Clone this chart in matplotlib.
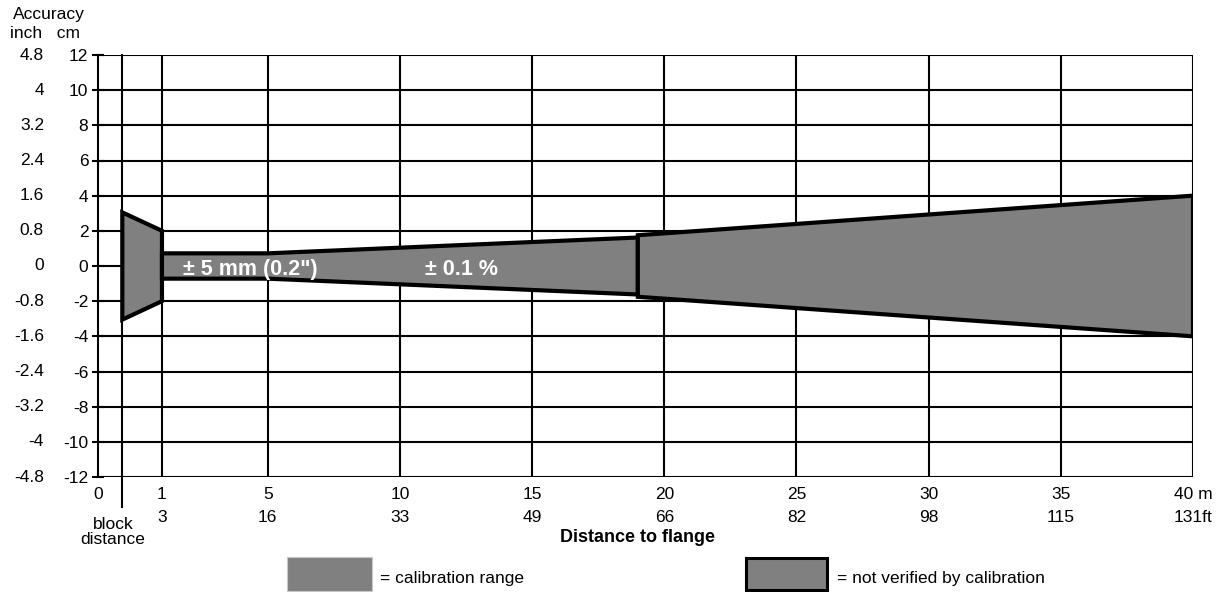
"""
Accuracy chart: measuring accuracy vs distance to flange.
Writes out.png
"""
import numpy as np
import matplotlib
matplotlib.use("Agg")
import matplotlib.pyplot as plt
from matplotlib.patches import Rectangle
from matplotlib.transforms import blended_transform_factory

plt.rcParams["font.family"] = ["Liberation Sans", "DejaVu Sans"]
plt.rcParams["font.size"] = 12.5

# x axis: distance in m (the 0..1 m part is stretched in the original)
X_TICKS_M = [0, 1, 5, 10, 15, 20, 25, 30, 35, 40]
X_LABELS_M = ["0", "1", "5", "10", "15", "20", "25", "30", "35", "40 m"]
X_LABELS_FT = ["", "3", "16", "33", "49", "66", "82", "98", "115", "131ft"]
BLOCK_DISTANCE = 0.38

# y axis: accuracy in cm, with inch equivalents
Y_TICKS_CM = [12, 10, 8, 6, 4, 2, 0, -2, -4, -6, -8, -10, -12]
Y_LABELS_INCH = ["4.8", "4", "3.2", "2.4", "1.6", "0.8", "0", "-0.8", "-1.6",
                 "-2.4", "-3.2", "-4", "-4.8"]

# accuracy envelope (half width in cm)
block_x = [BLOCK_DISTANCE, 1.0]
block_half = [3.05, 2.0]
cal_x = [1.0, 5.0, 19.0]
cal_half = [0.72, 0.72, 1.62]
unver_x = [19.0, 40.0]
unver_half = [1.75, 4.0]

GRAY = "#808080"

KNOTS_M = [0, 1, 40]
KNOTS_U = [0, 2.42, 41.42]


def fwd(x):
    return np.interp(x, KNOTS_M, KNOTS_U)


def inv(u):
    return np.interp(u, KNOTS_U, KNOTS_M)


def envelope(ax, xs, half):
    xs = list(xs)
    half = list(half)
    px = xs + xs[::-1]
    py = half + [-h for h in half[::-1]]
    ax.fill(px, py, facecolor=GRAY, edgecolor="black", linewidth=3,
            joinstyle="miter", zorder=3)


fig = plt.figure(figsize=(12.32, 5.92), dpi=100)
ax = fig.add_axes([98 / 1232, 1 - 477 / 592, (1193 - 98) / 1232, (477 - 55) / 592])
ax.set_xscale("function", functions=(fwd, inv))
ax.set_xlim(0, 40)
ax.set_ylim(-12, 12)

# grid
for y in Y_TICKS_CM:
    ax.axhline(y, color="black", linewidth=1.5, zorder=1)
for x in X_TICKS_M[1:]:
    ax.axvline(x, color="black", linewidth=1.5, zorder=1)
trans = blended_transform_factory(ax.transData, ax.transAxes)
ax.plot([BLOCK_DISTANCE, BLOCK_DISTANCE], [1, -0.072], color="black",
        linewidth=1.5, transform=trans, clip_on=False, zorder=1)

for s in ax.spines.values():
    s.set_linewidth(1.5)
ax.spines["top"].set_visible(False)
ax.spines["right"].set_visible(False)
ax.spines["bottom"].set_visible(False)

envelope(ax, block_x, block_half)
envelope(ax, cal_x, cal_half)
envelope(ax, unver_x, unver_half)

ax.text(1.8, -0.2, "± 5 mm (0.2\")", color="white", fontweight="bold",
        fontsize=15.5, va="center", ha="left", zorder=4)
ax.text(10.95, -0.2, "± 0.1 %", color="white", fontweight="bold",
        fontsize=15.5, va="center", ha="left", zorder=4)

# y ticks (cm) and inch labels
ax.set_yticks(Y_TICKS_CM)
ax.set_yticklabels([str(v) for v in Y_TICKS_CM])
ax.tick_params(axis="y", direction="inout", length=8, width=1.5, pad=3)
ytrans = blended_transform_factory(fig.transFigure, ax.transData)
for cm, inch in zip(Y_TICKS_CM, Y_LABELS_INCH):
    ax.text(44 / 1232, cm, inch, transform=ytrans, ha="right", va="center")
fig.text(13 / 1232, 1 - 15 / 592, "Accuracy", ha="left", va="center")
fig.text(10 / 1232, 1 - 34 / 592, "inch   cm", ha="left", va="center")

# x ticks (m) and feet labels
ax.set_xticks(X_TICKS_M)
ax.set_xticklabels(X_LABELS_M)
ax.tick_params(axis="x", length=0, pad=7)
for x, ft in zip(X_TICKS_M, X_LABELS_FT):
    ax.text(x, -0.095, ft, transform=trans, ha="center", va="center")
fig.text(113 / 1232, 1 - 532 / 592, "block\ndistance", ha="center",
         va="center", linespacing=1.0)
fig.text(637 / 1232, 1 - 537 / 592, "Distance to flange", ha="center",
         va="center", fontweight="bold", fontsize=13)

# legend
fig.add_artist(Rectangle((287 / 1232, 1 - 591 / 592), 85 / 1232, 34 / 592,
                         transform=fig.transFigure, facecolor=GRAY,
                         edgecolor="#c8c8c8", linewidth=0.8))
fig.text(380 / 1232, 1 - 578 / 592, "= calibration range", va="center")
fig.add_artist(Rectangle((746 / 1232, 1 - 590 / 592), 81 / 1232, 32 / 592,
                         transform=fig.transFigure, facecolor=GRAY,
                         edgecolor="black", linewidth=2.2))
fig.text(837 / 1232, 1 - 578 / 592, "= not verified by calibration", va="center")

fig.savefig("out.png", dpi=100)
